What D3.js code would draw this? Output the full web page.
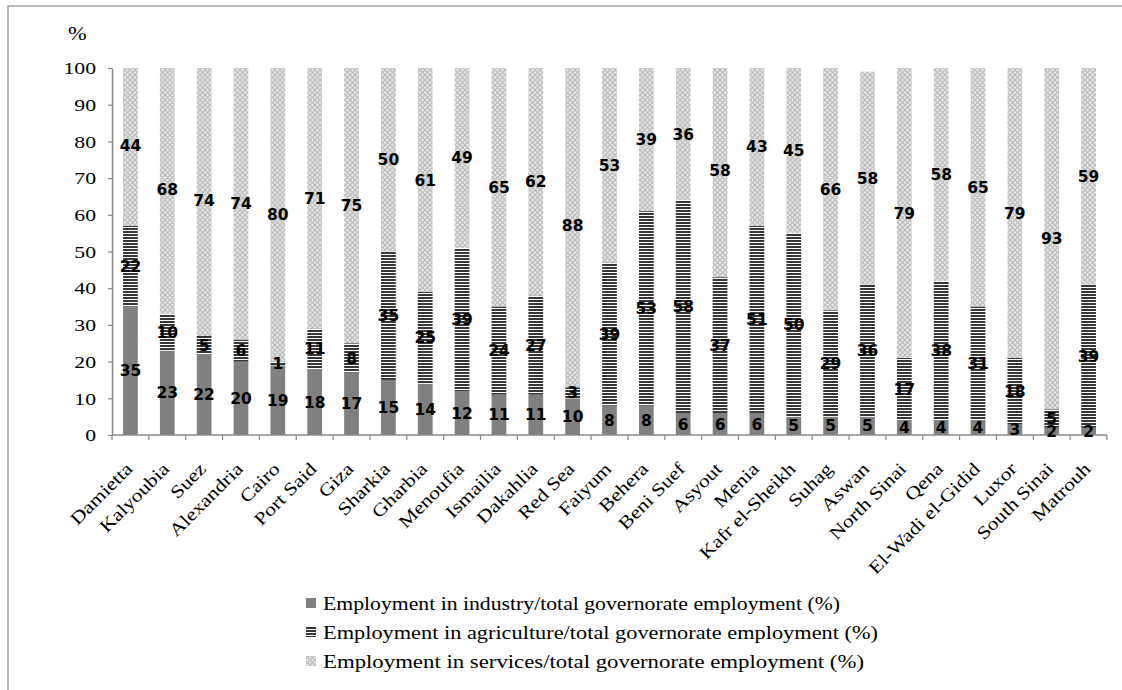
<!DOCTYPE html>
<html>
<head>
<meta charset="utf-8">
<script src="https://cdn.jsdelivr.net/npm/d3@7"></script>
<style>
  html, body { margin: 0; padding: 0; background: #fff; }
  svg { display: block; }
</style>
</head>
<body>
<svg id="chart" width="1122" height="690"></svg>
<script>
// Employment structure by governorate (% of total governorate employment)
const governorates = ["Damietta", "Kalyoubia", "Suez", "Alexandria", "Cairo", "Port Said", "Giza",
  "Sharkia", "Gharbia", "Menoufia", "Ismailia", "Dakahlia", "Red Sea", "Faiyum", "Behera",
  "Beni Suef", "Asyout", "Menia", "Kafr el-Sheikh", "Suhag", "Aswan", "North Sinai", "Qena",
  "El-Wadi el-Gidid", "Luxor", "South Sinai", "Matrouh"];
const industry    = [35, 23, 22, 20, 19, 18, 17, 15, 14, 12, 11, 11, 10, 8, 8, 6, 6, 6, 5, 5, 5, 4, 4, 4, 3, 2, 2];
const agriculture = [22, 10, 5, 6, 1, 11, 8, 35, 25, 39, 24, 27, 3, 39, 53, 58, 37, 51, 50, 29, 36, 17, 38, 31, 18, 5, 39];
const services    = [44, 68, 74, 74, 80, 71, 75, 50, 61, 49, 65, 62, 88, 53, 39, 36, 58, 43, 45, 66, 58, 79, 58, 65, 79, 93, 59];
const yTicks = [0, 10, 20, 30, 40, 50, 60, 70, 80, 90, 100];
const seriesNames = [
  "Employment in industry/total governorate employment (%)",
  "Employment in agriculture/total governorate employment (%)",
  "Employment in services/total governorate employment (%)"
];

const svg = d3.select("#chart");
const serif = "'Liberation Serif', 'Times New Roman', serif";
const sans = "'DejaVu Sans', sans-serif";

// fill patterns
const defs = svg.append("defs");
const stripes = defs.append("pattern").attr("id", "pat-agri")
  .attr("patternUnits", "userSpaceOnUse").attr("width", 6).attr("height", 3);
stripes.append("rect").attr("width", 6).attr("height", 3).attr("fill", "#ffffff");
stripes.append("rect").attr("width", 6).attr("height", 2).attr("fill", "#363636");

const hatch = defs.append("pattern").attr("id", "pat-serv")
  .attr("patternUnits", "userSpaceOnUse").attr("width", 5).attr("height", 5);
hatch.append("rect").attr("width", 5).attr("height", 5).attr("fill", "#e4e4e4");
hatch.append("path").attr("d", "M0,0L5,5M5,0L0,5").attr("stroke", "#bcbcbc").attr("stroke-width", 1.1);

const fills = ["#808080", "url(#pat-agri)", "url(#pat-serv)"];

// outer frame
svg.append("rect").attr("x", 8).attr("y", 6).attr("width", 1130).attr("height", 700)
  .attr("fill", "none").attr("stroke", "#a3a3a3").attr("stroke-width", 1.5);

const x = d3.scaleBand().domain(governorates).range([112, 1107]).paddingInner(0.6).paddingOuter(0.3);
const y = d3.scaleLinear().domain([0, 100]).range([435, 68]);

const rows = governorates.map((g, i) => ({ g, industry: industry[i], agriculture: agriculture[i], services: services[i] }));
const stack = d3.stack().keys(["industry", "agriculture", "services"])(rows);

defs.append("clipPath").attr("id", "plot-clip").append("rect")
  .attr("x", 100).attr("y", y(100)).attr("width", 1020).attr("height", y(0) - y(100));

const bars = svg.append("g").attr("clip-path", "url(#plot-clip)");
stack.forEach((layer, li) => {
  bars.append("g").selectAll("rect").data(layer).join("rect")
    .attr("x", d => x(d.data.g))
    .attr("width", x.bandwidth())
    .attr("y", d => y(d[1]))
    .attr("height", d => y(d[0]) - y(d[1]))
    .attr("fill", fills[li]);
});

// y axis
const yAxis = svg.append("g").attr("transform", `translate(${x.range()[0]},0)`)
  .call(d3.axisLeft(y).tickValues(yTicks).tickSize(4).tickSizeOuter(0).tickPadding(0));
yAxis.select(".domain").attr("stroke", "#888").attr("stroke-width", 1.5);
yAxis.selectAll(".tick line").attr("stroke", "#888").attr("stroke-width", 1.2);
yAxis.selectAll(".tick text")
  .attr("x", -12.5).attr("dy", "0.34em")
  .attr("transform", "scale(1.28,1)")
  .style("font-family", serif).style("font-size", "17px").attr("fill", "#000");

// x axis line and boundary ticks
const xAxis = svg.append("g");
xAxis.append("line").attr("x1", x.range()[0]).attr("x2", x.range()[1])
  .attr("y1", y(0)).attr("y2", y(0)).attr("stroke", "#888").attr("stroke-width", 1.5);
xAxis.selectAll("line.tk").data(d3.range(governorates.length + 1)).join("line")
  .attr("class", "tk")
  .attr("x1", i => x.range()[0] + i * x.step()).attr("x2", i => x.range()[0] + i * x.step())
  .attr("y1", y(0)).attr("y2", y(0) + 5).attr("stroke", "#888").attr("stroke-width", 1.2);
xAxis.selectAll("text").data(governorates).join("text")
  .attr("transform", d => `translate(${x(d) + x.bandwidth() / 2 + 3},${y(0) + 35}) rotate(-45) scale(1.2,1)`)
  .attr("text-anchor", "end")
  .style("font-family", serif).style("font-size", "18px").attr("fill", "#000")
  .text(d => d);

// unit label
svg.append("text").attr("transform", "translate(68,40) scale(1.25,1)")
  .style("font-family", serif).style("font-size", "18px").text("%");

// value labels centred in each segment
stack.forEach(layer => {
  svg.append("g").selectAll("text").data(layer).join("text")
    .attr("x", d => x(d.data.g) + x.bandwidth() / 2)
    .attr("y", d => y((d[0] + d[1]) / 2))
    .attr("dy", "0.36em")
    .attr("text-anchor", "middle")
    .style("font-family", sans).style("font-weight", "bold").style("font-size", "15.5px")
    .attr("fill", "#000")
    .text(d => d[1] - d[0]);
});

// legend
const legendWidths = [517, 555, 541];
const legend = svg.append("g");
seriesNames.forEach((name, i) => {
  const ly = 610 + i * 29;
  legend.append("rect").attr("x", 306).attr("y", ly - 12).attr("width", 10).attr("height", 10)
    .attr("fill", fills[i]);
  legend.append("text").attr("x", 323).attr("y", ly)
    .attr("textLength", legendWidths[i]).attr("lengthAdjust", "spacingAndGlyphs")
    .style("font-family", serif).style("font-size", "18px").attr("fill", "#000")
    .text(name);
});
</script>
</body>
</html>
